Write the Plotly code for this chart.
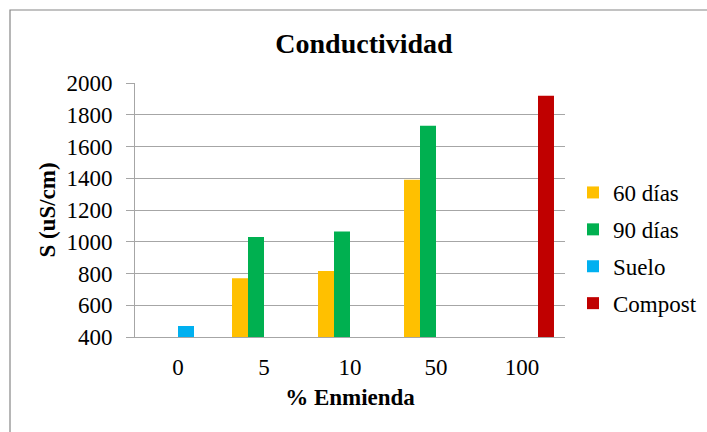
import plotly.graph_objects as go

# Amendment percentages (x categories)
categories = ["0", "5", "10", "50", "100"]

# Conductivity S (uS/cm) per series; None where the series has no measurement
dias_60 = [None, 770, 815, 1390, None]
dias_90 = [None, 1030, 1065, 1730, None]
suelo = [470, None, None, None, None]
compost = [None, None, None, None, 1920]

series_names = ["60 días", "90 días", "Suelo", "Compost"]
series_values = [dias_60, dias_90, suelo, compost]
series_colors = ["#FFC000", "#00B050", "#00B0F0", "#C00000"]

y_ticks = [400, 600, 800, 1000, 1200, 1400, 1600, 1800, 2000]

FONT = "Liberation Serif"
FS = 23
GRID = "#A6A6A6"

fig = go.Figure()
for name, vals, color in zip(series_names, series_values, series_colors):
    fig.add_trace(go.Bar(
        x=categories, y=vals, name=name,
        marker=dict(color=color, line=dict(width=0)),
        legendgroup=name,
    ))

W, H = 707, 432
L, R, T, B = 135, 142, 83, 95
pw, ph = W - L - R, H - T - B

def px_to_paper_x(px):
    return (px - L) / pw

def px_to_paper_y(py):
    return (H - B - py) / ph

fig.update_layout(
    width=W, height=H,
    margin=dict(l=L, r=R, t=T, b=B, pad=0, autoexpand=False),
    paper_bgcolor="white", plot_bgcolor="white",
    barmode="group", bargap=0.256, bargroupgap=0,
    font=dict(family=FONT, size=FS, color="black"),
    title=dict(
        text="<b>Conductividad</b>",
        font=dict(family=FONT, size=28, color="black"),
        x=364 / W, xanchor="center",
        y=1 - 43 / H, yanchor="middle",
        xref="container", yref="container",
    ),
    xaxis=dict(
        type="category", automargin=False,
        showline=True, linecolor=GRID, linewidth=1,
        ticks="", showgrid=False,
        tickfont=dict(family=FONT, size=FS),
        title=dict(text="<b>% Enmienda</b>", font=dict(family=FONT, size=FS), standoff=10),
        ticklabelstandoff=9,
    ),
    yaxis=dict(
        range=[400, 2000], automargin=False,
        tickvals=y_ticks,
        showline=True, linecolor=GRID, linewidth=1,
        showgrid=True, gridcolor=GRID, gridwidth=1,
        ticks="outside", ticklen=8, tickcolor=GRID, tickwidth=1,
        tickfont=dict(family=FONT, size=FS),
        ticklabelstandoff=9,
        title=dict(text="<b>S (uS/cm)</b>", font=dict(family=FONT, size=FS), standoff=4),
        zeroline=False,
    ),
    legend=dict(
        xref="container", yref="container",
        x=573 / W, xanchor="left",
        y=1 - 248 / H, yanchor="middle",
        font=dict(family=FONT, size=FS),
        tracegroupgap=4,
        itemwidth=30,
        bgcolor="rgba(0,0,0,0)",
    ),
    shapes=[dict(
        type="rect", xref="paper", yref="paper",
        x0=px_to_paper_x(10), x1=px_to_paper_x(730),
        y0=px_to_paper_y(460), y1=px_to_paper_y(10),
        line=dict(color="#868686", width=1.2),
        fillcolor="rgba(0,0,0,0)", layer="below",
    )],
)

fig.write_html("out.html")
